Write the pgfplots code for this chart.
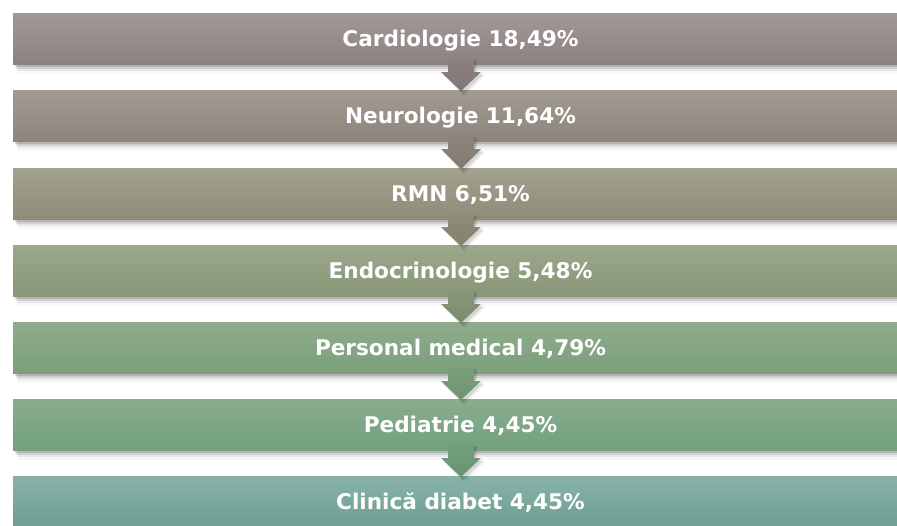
\documentclass[border=0pt]{standalone}
\usepackage{fontspec}
\setmainfont{DejaVu Sans}
\usepackage{pgfplots}
\usepackage{pgfplotstable}
\pgfplotsset{compat=1.18}
\definecolor{t1}{HTML}{A39897}\definecolor{b1}{HTML}{8C8180}
\definecolor{t2}{HTML}{A29B93}\definecolor{b2}{HTML}{8D857B}
\definecolor{t3}{HTML}{A3A28F}\definecolor{b3}{HTML}{8F8C78}
\definecolor{t4}{HTML}{9CA78C}\definecolor{b4}{HTML}{889777}
\definecolor{t5}{HTML}{8FAB8C}\definecolor{b5}{HTML}{7AA07A}
\definecolor{t6}{HTML}{8AAD8F}\definecolor{b6}{HTML}{72A07D}
\definecolor{t7}{HTML}{89B3A8}\definecolor{b7}{HTML}{6E9D91}
\pgfplotstableread[col sep=semicolon]{
x;y;name;pct
460.5;39.0;Cardiologie;18.49
460.5;116.0;Neurologie;11.64
460.5;194.0;RMN;6.51
460.5;271.0;Endocrinologie;5.48
460.5;348.0;Personal medical;4.79
460.5;425.0;Pediatrie;4.45
460.5;502.0;Clinică diabet;4.45
}\labels
% #1 top, #2 bottom
\newcommand{\SHADOW}[2]{%
  \addplot[draw=none,fill=black,fill opacity=0.14] coordinates {(15,#1+2) (915,#1+2) (915,#2+2.5) (15,#2+2.5)} --cycle;
  \addplot[draw=none,fill=black,fill opacity=0.10] coordinates {(16,#1+4) (915,#1+4) (915,#2+4.5) (16,#2+4.5)} --cycle;
  \addplot[draw=none,fill=black,fill opacity=0.06] coordinates {(17,#1+6) (915,#1+6) (915,#2+7) (17,#2+7)} --cycle;
  \addplot[draw=none,fill=black,fill opacity=0.03] coordinates {(18,#1+8) (915,#1+8) (915,#2+9.5) (18,#2+9.5)} --cycle;
}
\newcommand{\BOX}[4]{%
  \addplot[draw=none,top color=#3,bottom color=#4] coordinates {(13,#1) (908,#1) (908,#2) (13,#2)} --cycle;
}
% #1 bottom of upper box, #2 top of next box, #3 colour top, #4 colour bottom
\newcommand{\ARROW}[4]{%
  \addplot[draw=none,fill=black,fill opacity=0.10] coordinates {(450,#1-4) (476,#1-4) (476,#1+10) (483,#1+10) (463,#2+4) (443,#1+10) (450,#1+10)} --cycle;
  \addplot[draw=none,fill=black,fill opacity=0.07] coordinates {(451,#1-3) (477,#1-3) (477,#1+11) (485,#1+11) (464,#2+6) (443,#1+11) (451,#1+11)} --cycle;
  \addplot[draw=none,top color=#3,bottom color=#4] coordinates {(448,#1-6) (474,#1-6) (474,#1+8) (481,#1+8) (461,#2+1) (441,#1+8) (448,#1+8)} --cycle;
}
\begin{document}
\begin{tikzpicture}
\begin{axis}[
  width=897pt, height=525pt, scale only axis,
  xmin=0, xmax=897, ymin=0, ymax=525, y dir=reverse,
  axis line style={draw=none}, xtick=\empty, ytick=\empty,
  clip=true,
  /pgf/number format/assume math mode=true,
]
\SHADOW{13}{64}\SHADOW{90}{141}\SHADOW{168}{219}\SHADOW{245}{296}
\SHADOW{322}{373}\SHADOW{399}{450}\SHADOW{476}{527}
\BOX{13}{64}{t1}{b1}
\BOX{90}{141}{t2}{b2}
\BOX{168}{219}{t3}{b3}
\BOX{245}{296}{t4}{b4}
\BOX{322}{373}{t5}{b5}
\BOX{399}{450}{t6}{b6}
\BOX{476}{527}{t7}{b7}
\ARROW{64}{90}{b1}{b1!92!black}
\ARROW{141}{168}{b2}{b2!92!black}
\ARROW{219}{245}{b3}{b3!92!black}
\ARROW{296}{322}{b4}{b4!92!black}
\ARROW{373}{399}{b5}{b5!92!black}
\ARROW{450}{476}{b6}{b6!92!black}
\addplot[only marks, mark=none, point meta=explicit symbolic,
  visualization depends on={\thisrow{pct}\as\pct},
  nodes near coords={\pgfplotspointmeta\ \pgfmathprintnumber[fixed,fixed zerofill,precision=2,use comma]{\pct}\%},
  nodes near coords align=center,
  every node near coord/.append style={text=white,font=\fontsize{21.6}{24}\selectfont\bfseries,
    text height=15pt,text depth=0pt,inner sep=0pt}]
  table[x=x, y=y, meta=name]{\labels};
\end{axis}
\end{tikzpicture}
\end{document}
